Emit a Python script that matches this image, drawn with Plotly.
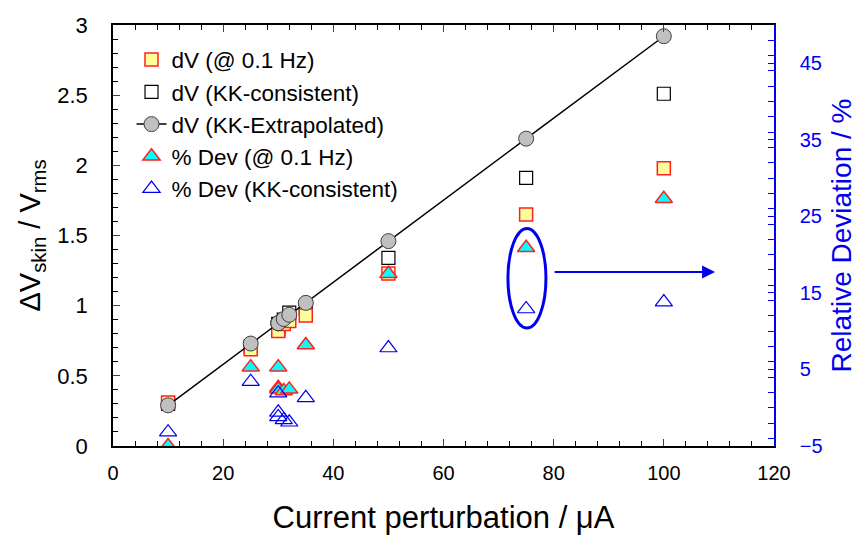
import plotly.graph_objects as go

# ---- data ----
current = [10, 25, 30, 30, 30, 31, 32, 35, 50, 75, 100]
dv_01hz = [0.31, 0.69, 0.84, 0.83, 0.82, 0.87, 0.89, 0.93, 1.23, 1.65, 1.98]
dv_kk = [0.30, 0.71, 0.87, 0.86, 0.86, 0.90, 0.95, 0.98, 1.34, 1.91, 2.51]
dv_extrap = [0.29, 0.73, 0.875, 0.875, 0.875, 0.905, 0.935, 1.02, 1.46, 2.19, 2.92]
dev_01hz = [-5.0, 5.3, 5.3, 2.6, 2.4, 2.2, 2.4, 8.2, 17.5, 20.9, 27.3]
dev_kk = [-3.2, 3.4, 1.9, -0.6, -1.2, -1.6, -1.9, 1.3, 7.8, 12.9, 13.8]

names = ["dV (@ 0.1 Hz)", "dV (KK-consistent)", "dV (KK-Extrapolated)",
         "% Dev (@ 0.1 Hz)", "% Dev (KK-consistent)"]

BLUE = "#0000EE"
FONT = "Liberation Sans, Arial, sans-serif"

fig = go.Figure()

fig.add_trace(go.Scatter(
    x=current, y=dv_kk, mode="markers", name=names[1], legendrank=2, legendgroup="b",
    marker=dict(symbol="square", size=13, color="white", line=dict(color="black", width=1.2))))
fig.add_trace(go.Scatter(
    x=current, y=dv_01hz, mode="markers", name=names[0], legendrank=1, legendgroup="a",
    marker=dict(symbol="square", size=13, color="#FFFF99", line=dict(color="#FF2020", width=1.5))))
fig.add_trace(go.Scatter(
    x=current, y=dv_extrap, mode="lines+markers", name=names[2], legendrank=3, legendgroup="c",
    line=dict(color="black", width=1.5),
    marker=dict(symbol="circle", size=15, color="#C0C0C0", line=dict(color="#404040", width=1))))
fig.add_trace(go.Scatter(
    x=current, y=dev_01hz, mode="markers", name=names[3], legendrank=4, legendgroup="d", yaxis="y2",
    marker=dict(symbol="triangle-up", size=15, color="#00FFFF", line=dict(color="#FF2020", width=1.5))))
fig.add_trace(go.Scatter(
    x=current, y=dev_kk, mode="markers", name=names[4], legendrank=5, legendgroup="e", yaxis="y2",
    marker=dict(symbol="triangle-up-open", size=15, color=BLUE, line=dict(color=BLUE, width=1.2))))

fig.add_shape(type="circle", xref="x", yref="y", x0=71.7, x1=78.6, y0=0.84, y1=1.55,
              line=dict(color=BLUE, width=3))
fig.add_annotation(x=109.3, y=1.24, ax=79.9, ay=1.24, xref="x", yref="y", axref="x", ayref="y",
                   showarrow=True, arrowhead=2, arrowsize=1.3, arrowwidth=2, arrowcolor=BLUE, text="")

fig.update_layout(
    width=863, height=546,
    margin=dict(l=113, r=89, t=25, b=100, autoexpand=False),
    paper_bgcolor="white", plot_bgcolor="white",
    font=dict(family=FONT, size=20, color="black"),
    showlegend=True,
    legend=dict(x=0.028, y=0.968, xanchor="left", yanchor="top", bgcolor="rgba(0,0,0,0)",
                font=dict(size=22.5), tracegroupgap=0, itemwidth=30),
    xaxis=dict(range=[0, 120], dtick=20, tick0=0, ticks="inside", ticklen=7, tickwidth=1.2,
               showline=True, linecolor="black", linewidth=1.5, mirror="ticks",
               showgrid=False, zeroline=False, automargin=False,
               minor=dict(dtick=4, ticks="inside", ticklen=5, tickcolor="black"),
               tickfont=dict(size=20), ticklabelstandoff=8,
               title=dict(text="Current perturbation / μA", font=dict(size=31), standoff=24)),
    yaxis=dict(range=[0, 3], dtick=0.5, tick0=0, ticks="inside", ticklen=7, tickwidth=1.2,
               showline=True, linecolor="black", linewidth=1.5,
               showgrid=False, zeroline=False, automargin=False,
               minor=dict(dtick=0.1, ticks="inside", ticklen=5, tickcolor="black"),
               tickfont=dict(size=22), ticklabelstandoff=19,
               title=dict(text="ΔV<sub>skin</sub> / V<sub>rms</sub>", font=dict(size=29), standoff=8)),
    yaxis2=dict(overlaying="y", side="right", range=[-5, 50], tick0=-5, dtick=10,
                ticks="inside", ticklen=6, tickwidth=1.2, tickcolor=BLUE,
                showline=True, linecolor=BLUE, linewidth=1.5,
                showgrid=False, zeroline=False, automargin=False,
                minor=dict(dtick=2, ticks="inside", ticklen=6, tickcolor=BLUE),
                tickfont=dict(size=20, color=BLUE), ticklabelstandoff=20,
                title=dict(text="Relative Deviation / %", font=dict(size=28, color=BLUE), standoff=10)),
)

fig.write_html("out.html")
